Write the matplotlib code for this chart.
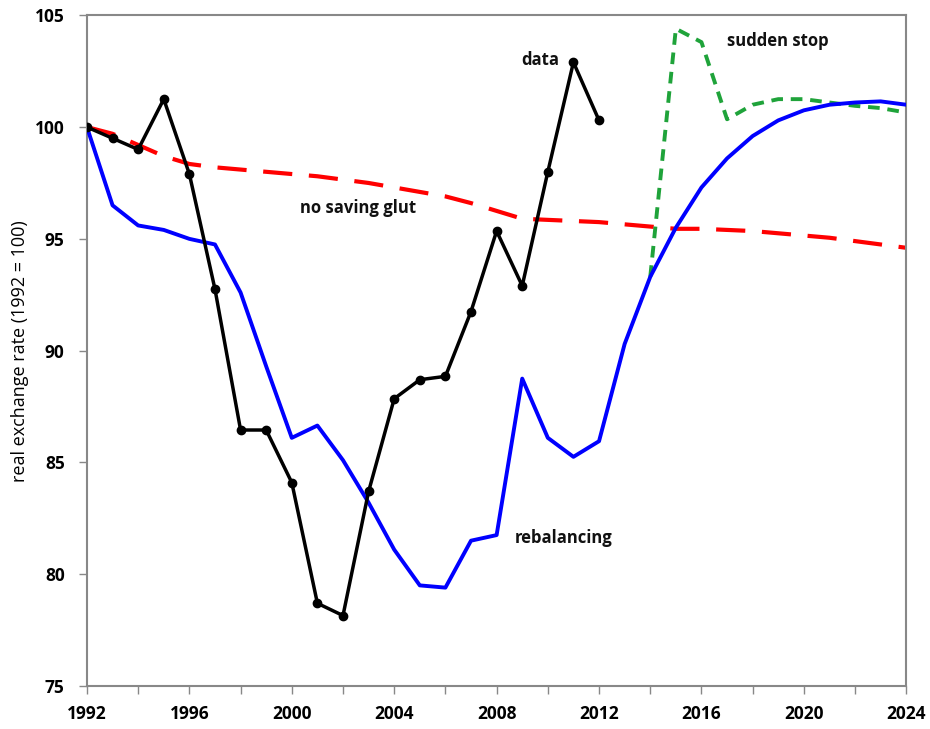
import numpy as np
import matplotlib.pyplot as plt

plt.rcParams['font.family'] = ['Open Sans', 'DejaVu Sans']

years_data = np.arange(1992, 2013)
data = [100.0, 99.5, 99.0, 101.25, 97.9, 92.75, 86.45, 86.45, 84.1, 78.7,
        78.15, 83.7, 87.85, 88.7, 88.85, 91.75, 95.35, 92.9, 98.0, 102.9, 100.3]

years_model = np.arange(1992, 2025)
rebalancing = [100.0, 96.5, 95.6, 95.4, 95.0, 94.75, 92.6, 89.3, 86.1, 86.65,
               85.1, 83.2, 81.1, 79.5, 79.4, 81.5, 81.75, 88.75, 86.1, 85.25,
               85.95, 90.3, 93.3, 95.5, 97.3, 98.6, 99.6, 100.3, 100.75, 101.0,
               101.1, 101.15, 101.0]
no_glut = [100.0, 99.7, 99.2, 98.7, 98.35, 98.2, 98.1, 98.0, 97.9, 97.8,
           97.65, 97.5, 97.3, 97.1, 96.9, 96.6, 96.25, 95.9, 95.85, 95.8,
           95.75, 95.65, 95.55, 95.45, 95.45, 95.4, 95.35, 95.25, 95.15, 95.05,
           94.9, 94.75, 94.6]

years_stop = np.arange(2014, 2025)
sudden_stop = [93.3, 104.4, 103.8, 100.35, 101.0, 101.25, 101.25, 101.1, 100.95, 100.85, 100.65]

fig = plt.figure(figsize=(9.3, 7.29), dpi=100)
ax = fig.add_axes([0.0935, 0.059, 0.881, 0.92])

ax.plot(years_model, no_glut, color='#ff0000', lw=3, dashes=(7, 4), zorder=2)
ax.plot(years_model, rebalancing, color='#0000ff', lw=2.8, zorder=3)
ax.plot(years_stop, sudden_stop, color='#1fa33a', lw=2.8, dashes=(3, 2), zorder=2)
ax.plot(years_data, data, color='black', lw=2.5, marker='o', ms=6, zorder=4)

lab = dict(fontsize=12, fontweight='bold', ha='center', va='center', color='#111111')
ax.text(2009.7, 103.0, 'data', **lab)
ax.text(2002.6, 96.4, 'no saving glut', **lab)
ax.text(2010.6, 81.6, 'rebalancing', **lab)
ax.text(2019.0, 103.85, 'sudden stop', **lab)

ax.set_xlim(1992, 2024)
ax.set_ylim(75, 105)
ax.set_xticks(np.arange(1992, 2025, 4))
ax.set_xticks(np.arange(1992, 2025, 2), minor=True)
ax.set_yticks(np.arange(75, 106, 5))
for s in ax.spines.values():
    s.set_color('#888888')
    s.set_linewidth(1.5)
ax.tick_params(which='both', direction='out', color='#888888', length=6, width=1)
ax.tick_params(axis='x', which='both', top=False)
for t in ax.get_xticklabels() + ax.get_yticklabels():
    t.set_fontweight('bold')
    t.set_fontsize(12.5)
ax.tick_params(axis='x', pad=8)
ax.tick_params(axis='y', pad=10)
ax.set_ylabel('real exchange rate (1992 = 100)', fontsize=13, labelpad=4)

fig.savefig('out.png', dpi=100)
